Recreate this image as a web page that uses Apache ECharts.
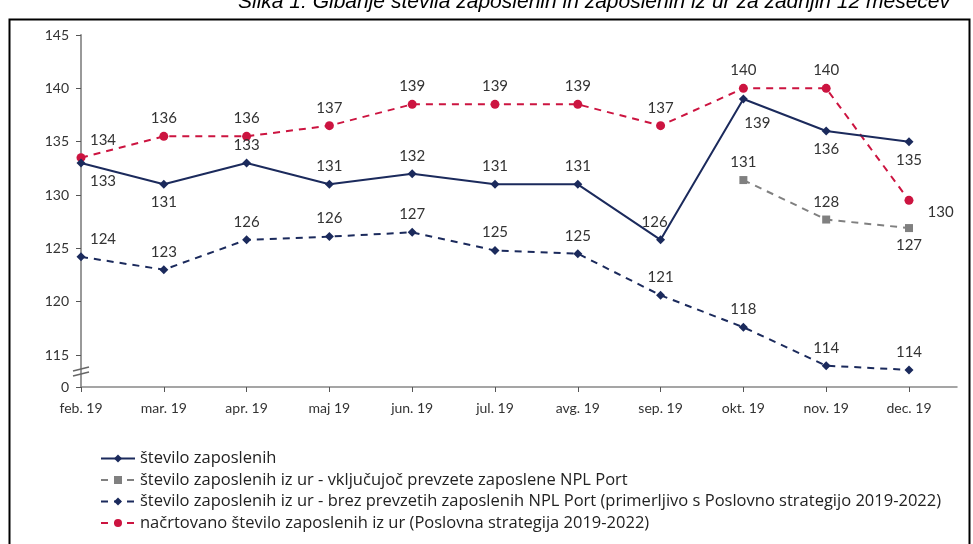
<!DOCTYPE html>
<html>
<head>
    <meta charset="utf-8">
    <title>ECharts</title>
    <script src="https://cdn.jsdelivr.net/npm/echarts@6/dist/echarts.min.js"></script>
</head>
<body style="margin:0;background:#fff;">
<div id="main" style="width: 973px;height:544px;"></div>
<script type="text/javascript">
// podatki
var months = ['feb. 19', 'mar. 19', 'apr. 19', 'maj 19', 'jun. 19', 'jul. 19', 'avg. 19', 'sep. 19', 'okt. 19', 'nov. 19', 'dec. 19'];
var yTicks = [112, 115, 120, 125, 130, 135, 140, 145];
var zaposleni = [133, 131, 133, 131, 132, 131, 131, 125.8, 139, 136, 135];
var izUrNpl = [null, null, null, null, null, null, null, null, 131.4, 127.7, 126.9];
var izUrBrezNpl = [124.2, 123, 125.8, 126.1, 126.5, 124.8, 124.5, 120.6, 117.6, 114, 113.6];
var nacrtovano = [133.5, 135.5, 135.5, 136.5, 138.5, 138.5, 138.5, 136.5, 140, 140, 129.5];
var names = [
    'število zaposlenih',
    'število zaposlenih iz ur - vključujoč prevzete zaposlene NPL Port',
    'število zaposlenih iz ur - brez prevzetih zaposlenih NPL Port (primerljivo s Poslovno strategijo 2019-2022)',
    'načrtovano število zaposlenih iz ur (Poslovna strategija 2019-2022)'
];

// polozaji oznak (samo stil)
var pos1 = ['bottom', 'bottom', 'top', 'top', 'top', 'top', 'top', 'top', 'bottom', 'bottom', 'bottom'];
var pos2 = [null, null, null, null, null, null, null, null, 'top', 'top', 'bottom'];

var navy = '#1b2a5c';
var red = '#cc1440';
var grey = '#808080';
var font = 'Lato, "Open Sans", sans-serif';

function pts(arr, posArr) {
    var out = [];
    arr.forEach(function (v, i) {
        if (v == null) return;
        var d = {value: [i, v]};
        if (posArr) d.label = {position: posArr[i]};
        out.push(d);
    });
    return out;
}

var d1 = pts(zaposleni, pos1);
d1[0].label.offset = [22, 0];
d1[7].label.offset = [-6, 0];
d1[8].label.offset = [14, 6];
var d2 = pts(izUrNpl, pos2);
var d3 = pts(izUrBrezNpl);
d3[0].label = {offset: [22, 0]};
var d4 = pts(nacrtovano);
d4[0].label = {offset: [22, 0]};
d4[10].label = {position: 'right', offset: [8, 12]};

var lbl = {
    show: true, position: 'top', color: '#333', fontSize: 15, fontFamily: font, distance: 6,
    formatter: function (p) { return String(Math.round(p.value[1])); }
};

var myChart = echarts.init(document.getElementById('main'));
myChart.setOption({
    backgroundColor: '#fff',
    animation: false,
    title: {
        text: 'Slika 1: Gibanje števila zaposlenih in zaposlenih iz ur za zadnjih 12 mesecev',
        left: 589, textAlign: 'center', top: -13,
        textStyle: {fontFamily: 'Liberation Sans, Arial', fontStyle: 'italic', fontWeight: 'normal', fontSize: 21, color: '#000'}
    },
    grid: {left: 81, top: 35, right: 16, bottom: 157},
    legend: {
        orient: 'vertical', left: 95, top: 445, itemWidth: 34, itemHeight: 10, itemGap: 4.5,
        textStyle: {fontFamily: '"Open Sans", sans-serif', fontSize: 16.5, color: '#222'},
        data: names
    },
    xAxis: {
        type: 'value', min: 0, max: 10.58,
        splitLine: {show: false},
        axisLine: {show: true, lineStyle: {color: '#888', width: 1.5}},
        axisTick: {show: true, customValues: [0, 1, 2, 3, 4, 5, 6, 7, 8, 9, 10], length: 5, lineStyle: {color: '#555'}},
        axisLabel: {
            customValues: [0, 1, 2, 3, 4, 5, 6, 7, 8, 9, 10],
            formatter: function (v) { return months[Math.round(v)]; },
            color: '#333', fontSize: 14, fontFamily: font, margin: 14
        }
    },
    yAxis: {
        type: 'value', min: 112, max: 145,
        splitLine: {show: false},
        axisLine: {show: true, lineStyle: {color: '#999', width: 2}},
        axisTick: {show: true, customValues: yTicks, length: 5, lineStyle: {color: '#555'}},
        axisLabel: {
            customValues: yTicks,
            formatter: function (v) { return v === 112 ? '0' : String(v); },
            color: '#333', fontSize: 14, fontFamily: font, margin: 12
        }
    },
    series: [
        {
            name: names[0], type: 'line', data: d1, symbol: 'diamond', symbolSize: 9,
            itemStyle: {color: navy}, lineStyle: {color: navy, width: 2},
            label: lbl, z: 4
        },
        {
            name: names[1], type: 'line', data: d2, symbol: 'rect', symbolSize: 8,
            itemStyle: {color: grey}, lineStyle: {color: grey, width: 2, type: [7, 6]},
            label: lbl, z: 2
        },
        {
            name: names[2], type: 'line', data: d3, symbol: 'diamond', symbolSize: 9,
            itemStyle: {color: navy}, lineStyle: {color: navy, width: 2, type: [7, 6]},
            label: lbl, z: 3
        },
        {
            name: names[3], type: 'line', data: d4, symbol: 'circle', symbolSize: 9,
            itemStyle: {color: red}, lineStyle: {color: red, width: 2, type: [7, 6]},
            label: lbl, z: 3
        }
    ]
});

// okvir in prekinitev osi
var bx = myChart.convertToPixel({xAxisIndex: 0}, 0);
var by = myChart.convertToPixel({yAxisIndex: 0}, 113.4);
myChart.setOption({
    graphic: [
        {type: 'rect', shape: {x: 9.5, y: 19.5, width: 960, height: 560}, style: {fill: null, stroke: '#000', lineWidth: 2}, silent: true},
        {type: 'line', shape: {x1: bx - 8, y1: by - 1, x2: bx + 8, y2: by - 5}, style: {stroke: '#666', lineWidth: 1.5}, z: 10},
        {type: 'line', shape: {x1: bx - 8, y1: by + 4, x2: bx + 8, y2: by}, style: {stroke: '#666', lineWidth: 1.5}, z: 10}
    ]
});
</script>
</body>
</html>
